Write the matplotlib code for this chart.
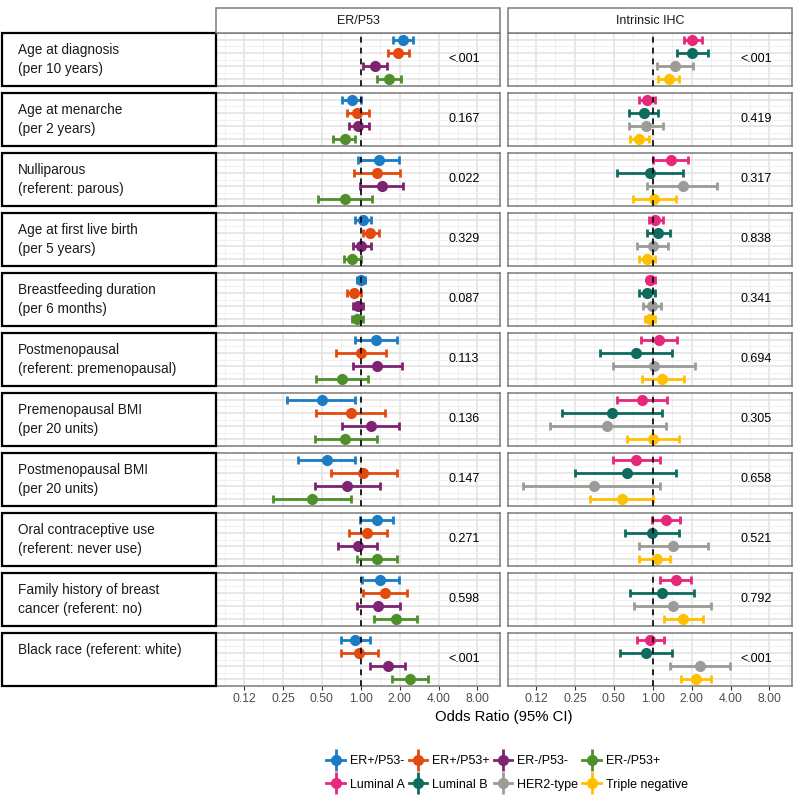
import matplotlib
matplotlib.use('Agg')
import matplotlib.pyplot as plt
from matplotlib.patches import Rectangle
from matplotlib.lines import Line2D
from matplotlib.legend_handler import HandlerTuple
from matplotlib.ticker import NullLocator
import numpy as np

plt.rcParams['font.family'] = ['Liberation Sans', 'DejaVu Sans']

# ---- data ----
rows = ["Age at diagnosis\n(per 10 years)",
        "Age at menarche\n(per 2 years)",
        "Nulliparous\n(referent: parous)",
        "Age at first live birth\n(per 5 years)",
        "Breastfeeding duration\n(per 6 months)",
        "Postmenopausal\n(referent: premenopausal)",
        "Premenopausal BMI\n(per 20 units)",
        "Postmenopausal BMI\n(per 20 units)",
        "Oral contraceptive use\n(referent: never use)",
        "Family history of breast\ncancer (referent: no)",
        "Black race (referent: white)\n "]

panels = ["ER/P53", "Intrinsic IHC"]
er_groups = ["ER+/P53-", "ER+/P53+", "ER-/P53-", "ER-/P53+"]
ihc_groups = ["Luminal A", "Luminal B", "HER2-type", "Triple negative"]
er_colors = ["#1B7CC4", "#E34A0E", "#7D2370", "#4E8F2A"]
ihc_colors = ["#E7287A", "#0E6B5E", "#9B9B98", "#FFC000"]

p_er = ["<.001", "0.167", "0.022", "0.329", "0.087", "0.113", "0.136",
        "0.147", "0.271", "0.598", "<.001"]
p_ihc = ["<.001", "0.419", "0.317", "0.838", "0.341", "0.694", "0.305",
         "0.658", "0.521", "0.792", "<.001"]

# odds ratios, one row per variable, one column per subtype
er_or = [[2.13, 1.95, 1.29, 1.66], [0.85, 0.93, 0.95, 0.75], [1.38, 1.33, 1.46, 0.75],
         [1.04, 1.18, 1.00, 0.85], [1.00, 0.88, 0.96, 0.93], [1.31, 1.00, 1.33, 0.71],
         [0.50, 0.84, 1.20, 0.76], [0.55, 1.04, 0.79, 0.42], [1.33, 1.11, 0.95, 1.33],
         [1.41, 1.54, 1.36, 1.88], [0.91, 0.97, 1.63, 2.42]]
er_lo = [[1.78, 1.63, 1.05, 1.33], [0.72, 0.78, 0.81, 0.61], [0.96, 0.88, 0.98, 0.47],
         [0.91, 1.04, 0.87, 0.74], [0.93, 0.79, 0.87, 0.86], [0.90, 0.64, 0.87, 0.45],
         [0.27, 0.45, 0.71, 0.44], [0.33, 0.59, 0.44, 0.21], [0.98, 0.81, 0.67, 0.93],
         [1.02, 1.04, 0.93, 1.26], [0.70, 0.70, 1.18, 1.75]]
er_hi = [[2.55, 2.37, 1.60, 2.05], [1.00, 1.15, 1.15, 0.91], [1.98, 2.02, 2.13, 1.22],
         [1.20, 1.38, 1.20, 1.00], [1.08, 1.00, 1.05, 1.05], [1.91, 1.57, 2.09, 1.13],
         [0.90, 1.54, 1.98, 1.33], [0.90, 1.91, 1.41, 0.84], [1.78, 1.60, 1.33, 1.91],
         [1.98, 2.29, 2.02, 2.74], [1.18, 1.36, 2.21, 3.34]]

ihc_or = [[2.02, 2.02, 1.49, 1.33], [0.90, 0.85, 0.88, 0.79], [1.38, 0.95, 1.72, 1.02],
          [1.04, 1.09, 1.00, 0.91], [0.96, 0.91, 0.98, 0.95], [1.11, 0.74, 1.02, 1.18],
          [0.82, 0.48, 0.44, 1.00], [0.74, 0.63, 0.35, 0.58], [1.26, 0.98, 1.43, 1.07],
          [1.51, 1.18, 1.43, 1.72], [0.96, 0.88, 2.33, 2.17]]
ihc_lo = [[1.75, 1.54, 1.07, 1.09], [0.79, 0.65, 0.65, 0.67], [1.00, 0.53, 0.91, 0.70],
          [0.93, 0.90, 0.76, 0.79], [0.91, 0.79, 0.84, 0.87], [0.81, 0.39, 0.49, 0.82],
          [0.53, 0.20, 0.16, 0.63], [0.49, 0.25, 0.10, 0.33], [0.98, 0.61, 0.78, 0.78],
          [1.13, 0.67, 0.71, 1.22], [0.76, 0.56, 1.36, 1.66]]
ihc_hi = [[2.42, 2.69, 2.05, 1.60], [1.04, 1.09, 1.20, 0.93], [1.88, 1.72, 3.16, 1.51],
          [1.20, 1.36, 1.31, 1.05], [1.04, 1.05, 1.15, 1.04], [1.54, 1.41, 2.13, 1.75],
          [1.29, 1.18, 1.26, 1.60], [1.13, 1.51, 1.13, 1.00], [1.63, 1.60, 2.69, 1.36],
          [1.98, 2.09, 2.84, 2.46], [1.22, 1.41, 3.93, 2.84]]

ticks = [0.125, 0.25, 0.5, 1, 2, 4, 8]
tick_labels = ["0.12", "0.25", "0.50", "1.00", "2.00", "4.00", "8.00"]

# ---- layout (pixels) ----
W, H = 800, 810
fig = plt.figure(figsize=(8, 8.1), dpi=100)


def fx(px):
    return px / W


def fy(py):
    return 1 - py / H


panel_left = [216, 508]
panel_w = 284
row_top0, row_pitch, row_h = 33, 60, 53
xmin, xmax = 2 ** -3.72, 2 ** 3.58
minor = 2.0 ** np.arange(-3.5, 4, 1)

panel_data = [(er_or, er_lo, er_hi, er_colors, p_er),
              (ihc_or, ihc_lo, ihc_hi, ihc_colors, p_ihc)]

for i, lab in enumerate(rows):
    top = row_top0 + i * row_pitch
    # row strip on the left
    fig.add_artist(Rectangle((fx(2), fy(top + row_h)), fx(214), row_h / H,
                             transform=fig.transFigure, facecolor='white',
                             edgecolor='black', lw=1.6))
    fig.text(fx(18), fy(top + row_h / 2), lab, ha='left', va='center',
             fontsize=9.8, color='#1A1A1A', linespacing=1.4)

    for j in range(2):
        ors, los, his, cols, pv = panel_data[j]
        ax = fig.add_axes([fx(panel_left[j]), fy(top + row_h), fx(panel_w), row_h / H])
        ax.set_xscale('log', base=2)
        ax.set_xlim(xmin, xmax)
        ax.set_ylim(4.5, 0.5)
        for m in minor:
            ax.axvline(m, color='#F0F0F0', lw=0.7, zorder=0)
        for m in ticks:
            ax.axvline(m, color='#E4E4E4', lw=1.2, zorder=0)
        for yy in [1.5, 2.5, 3.5]:
            ax.axhline(yy, color='#F0F0F0', lw=0.7, zorder=0)
        for yy in [1, 2, 3, 4]:
            ax.axhline(yy, color='#E4E4E4', lw=1.2, zorder=0)

        for k in range(4):
            o, lo, hi = ors[i][k], los[i][k], his[i][k]
            ax.errorbar([o], [k + 1], xerr=[[o - lo], [hi - o]], fmt='o',
                        color=cols[k], ms=7, lw=2, capsize=3, capthick=2, zorder=3)
        ax.axvline(1, color='black', lw=1.2, ls=(0, (3.5, 3)), zorder=4)
        ax.text(6.3, 2.5, pv[i], ha='center', va='center', fontsize=9,
                color='black')

        for s in ax.spines.values():
            s.set_color('#7A7A7A')
            s.set_linewidth(1.1)
        ax.set_yticks([])
        ax.set_xticks(ticks)
        ax.xaxis.set_minor_locator(NullLocator())
        if i == len(rows) - 1:
            ax.set_xticklabels(tick_labels)
            ax.tick_params(axis='x', length=3, width=0.8, color='#333333',
                           labelsize=8.8, labelcolor='#4D4D4D', pad=2)
        else:
            ax.set_xticklabels([])
            ax.tick_params(axis='x', length=0)

# column headers
for j, name in enumerate(panels):
    fig.add_artist(Rectangle((fx(panel_left[j]), fy(33)), fx(panel_w), 25 / H,
                             transform=fig.transFigure, facecolor='white',
                             edgecolor='#7A7A7A', lw=1.1))
    fig.text(fx(panel_left[j] + panel_w / 2), fy(20.5), name, ha='center',
             va='center', fontsize=9, color='#1A1A1A')

fig.text(fx(504), fy(717), "Odds Ratio (95% CI)", ha='center', va='center',
         fontsize=10.7)

# legend: ER groups on row 1, IHC groups on row 2
handles, labels = [], []
for k in range(4):
    for names, cols in [(er_groups, er_colors), (ihc_groups, ihc_colors)]:
        h = (Line2D([], [], color=cols[k], lw=2, marker='o', ms=7),
             Line2D([], [], color=cols[k], lw=0, marker='|', ms=16, mew=2))
        handles.append(h)
        labels.append(names[k])
fig.legend(handles, labels, handler_map={tuple: HandlerTuple(ndivide=1)},
           ncol=4, loc='center', bbox_to_anchor=(fx(507), fy(773)),
           frameon=False, fontsize=9, handlelength=1.5, handletextpad=0.4,
           columnspacing=0.3, labelspacing=0.9)

fig.savefig('out.png', dpi=100)
